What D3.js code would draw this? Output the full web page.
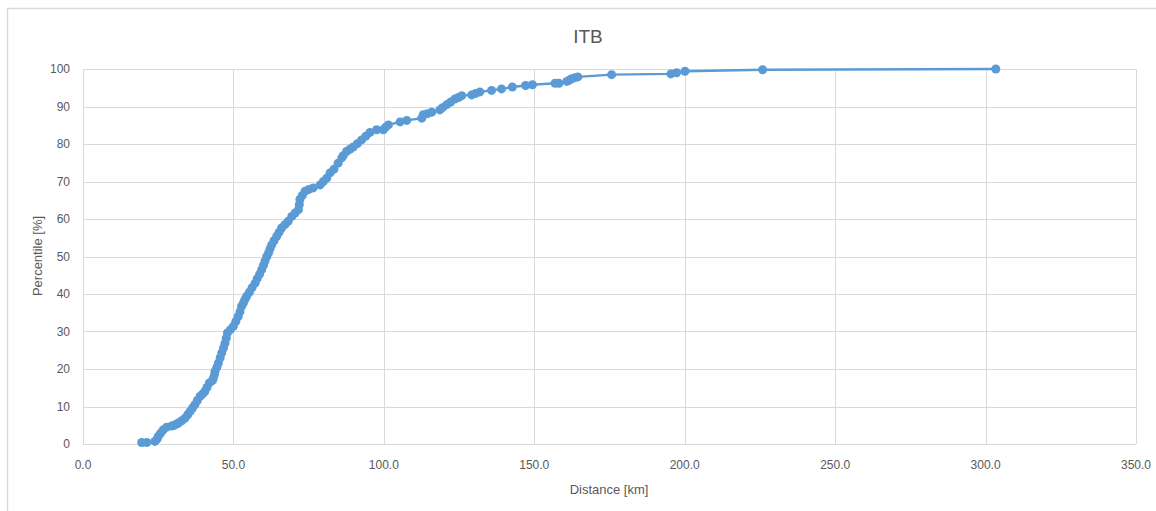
<!DOCTYPE html>
<html><head><meta charset="utf-8">
<script src="https://cdn.jsdelivr.net/npm/d3@7"></script>
<style>body{margin:0;background:#fff}svg{display:block}text{font-family:"Liberation Sans",Arial,sans-serif;fill:#595959}</style>
</head><body><svg id="c" width="1156" height="511"></svg>
<script>
const title = "ITB";
const xTitle = "Distance [km]";
const yTitle = "Percentile [%]";
const xTicks = [0,50,100,150,200,250,300,350];
const yTicks = [0,10,20,30,40,50,60,70,80,90,100];
const distance = [19.5,21.2,23.9,24.6,25.0,25.8,26.7,27.8,29.5,30.3,31.0,31.7,32.8,33.9,34.8,35.6,36.4,37.2,38.0,38.9,39.7,40.5,41.2,42.0,43.0,43.3,43.7,43.9,44.5,45.0,45.6,46.1,46.7,47.2,47.6,48.0,49.0,50.0,50.8,51.6,52.2,52.7,53.3,53.8,54.4,55.3,56.2,57.2,57.9,58.7,59.4,60.0,60.5,61.1,61.7,62.2,62.7,63.5,64.4,65.2,66.0,67.1,68.2,69.4,70.5,71.6,71.9,72.1,72.9,73.8,75.1,76.5,78.8,79.9,81.0,82.1,83.4,84.8,86.0,86.5,87.6,88.7,89.8,91.2,92.6,94.0,95.4,97.6,99.8,100.6,101.5,105.4,107.6,112.6,113.1,114.5,115.9,118.6,119.5,120.9,122.2,123.6,124.8,125.9,129.2,130.5,131.9,135.8,139.1,142.7,147.1,149.4,156.9,158.2,160.8,161.6,162.4,163.5,164.5,175.7,195.4,197.3,200.1,225.9,303.4];
const percentile = [0.4,0.4,0.7,1.3,2.0,2.9,3.8,4.5,4.8,5.0,5.3,5.6,6.2,6.9,7.8,8.7,9.6,10.5,11.6,12.7,13.3,14.0,15.1,16.3,16.9,17.5,18.5,19.4,20.5,21.6,23.0,24.3,25.6,26.9,28.2,29.6,30.5,31.4,32.7,34.0,35.3,36.7,37.6,38.5,39.4,40.5,41.7,42.9,44.1,45.3,46.5,47.7,48.8,50.0,51.0,52.1,53.1,54.2,55.4,56.5,57.6,58.5,59.4,60.7,61.6,62.5,63.8,65.2,66.3,67.4,67.9,68.3,69.1,70.0,70.9,72.3,73.3,74.9,76.3,76.9,78.0,78.6,79.2,80.1,81.1,82.1,83.1,83.8,83.8,84.5,85.1,85.9,86.3,86.9,87.8,88.1,88.5,89.1,89.7,90.5,91.2,92.0,92.4,92.9,93.1,93.5,93.9,94.3,94.7,95.2,95.6,95.8,96.2,96.2,96.7,97.0,97.4,97.7,97.9,98.5,98.7,99.0,99.4,99.8,100.0];

const data = distance.map((d,i)=>({x:d,y:percentile[i]}));
const svg = d3.select("#c");
const L=83,R=1136,T=69,B=444;
const x = d3.scaleLinear().domain([0,350]).range([L,R]);
const y = d3.scaleLinear().domain([0,100]).range([B,T]);
const grid="#d9d9d9";

svg.append("path").attr("d","M7.5,520V8.5H1160").attr("fill","none").attr("stroke",grid).attr("stroke-width",1.5);

svg.append("g").selectAll("line").data(yTicks).join("line")
  .attr("x1",L).attr("x2",R).attr("y1",d=>Math.round(y(d))+0.5).attr("y2",d=>Math.round(y(d))+0.5)
  .attr("stroke",grid).attr("stroke-width",1);
svg.append("g").selectAll("line").data(xTicks).join("line")
  .attr("y1",T).attr("y2",B).attr("x1",d=>Math.round(x(d))+0.5).attr("x2",d=>Math.round(x(d))+0.5)
  .attr("stroke",grid).attr("stroke-width",1);

svg.append("g").selectAll("text").data(yTicks).join("text")
  .attr("x",70).attr("y",d=>y(d)+4).attr("text-anchor","end").attr("font-size",12).text(d=>d);
svg.append("g").selectAll("text").data(xTicks).join("text")
  .attr("x",d=>x(d)).attr("y",469).attr("text-anchor","middle").attr("font-size",12).text(d=>d.toFixed(1));

svg.append("text").attr("x",588).attr("y",43).attr("text-anchor","middle").attr("font-size",19).text(title);
svg.append("text").attr("x",609).attr("y",494).attr("text-anchor","middle").attr("font-size",13).text(xTitle);
svg.append("text").attr("transform","translate(42,256) rotate(-90)").attr("text-anchor","middle").attr("font-size",13).text(yTitle);

const color="#5b9bd5";
svg.append("path").datum(data).attr("fill","none").attr("stroke",color).attr("stroke-width",2.5)
  .attr("d",d3.line().x(d=>x(d.x)).y(d=>y(d.y)));
svg.append("g").selectAll("circle").data(data).join("circle")
  .attr("cx",d=>x(d.x)).attr("cy",d=>y(d.y)).attr("r",4.5).attr("fill",color);
</script></body></html>
